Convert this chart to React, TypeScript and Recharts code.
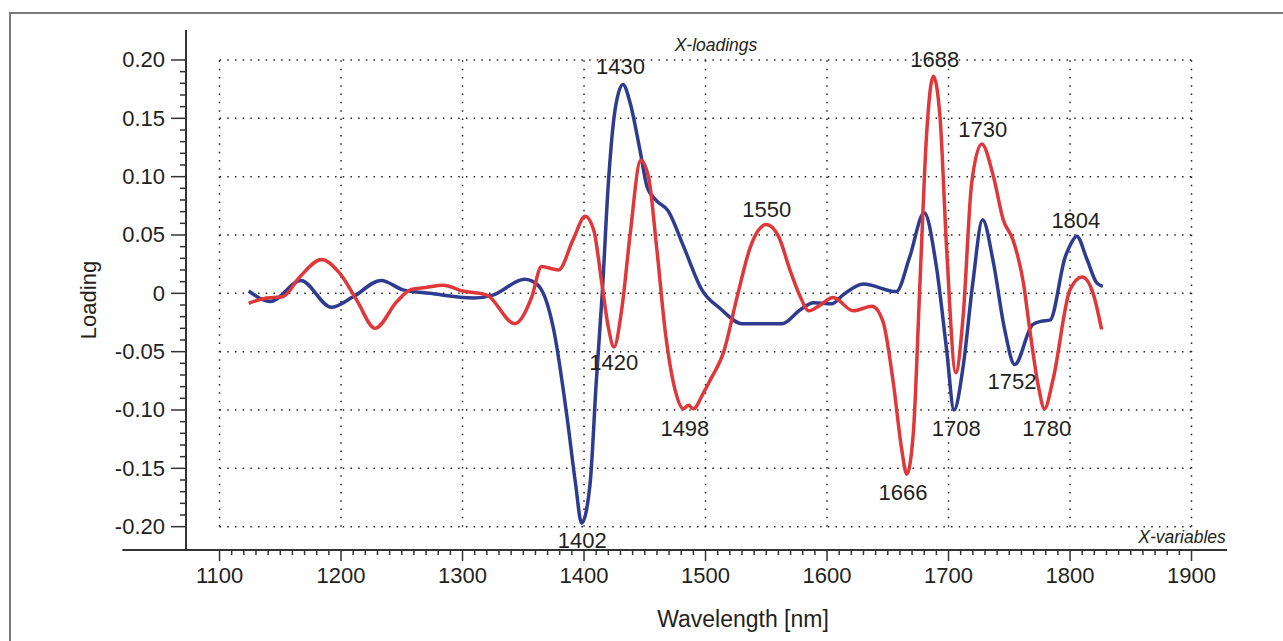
import React from "react";
import { LineChart, Line, XAxis, YAxis, ReferenceLine, ReferenceDot } from "recharts";

// X-loadings, two components (wavelength in nm, loading)
const blueNm = [
  1124, 1142, 1167, 1192, 1210, 1233, 1251, 1273, 1309, 1325, 1351, 1362, 1375, 1386, 1393, 1398,
  1405, 1410, 1415, 1420, 1425.5, 1432, 1438, 1446, 1452, 1460, 1469, 1482, 1497, 1512, 1530, 1550,
  1563, 1578, 1589, 1604, 1613, 1630, 1657, 1668, 1680, 1690, 1698.5, 1704.5, 1712, 1720, 1728, 1737,
  1746, 1754.5, 1769, 1776, 1783.5, 1796, 1800, 1805.5, 1814, 1822, 1827,
];
const blueVal = [
  0.002, -0.007, 0.011, -0.012, -0.003, 0.011, 0.003, 0.0, -0.004, -0.0015, 0.012, 0.007, -0.031, -0.106, -0.163, -0.197,
  -0.163, -0.077, 0.0, 0.094, 0.157, 0.179, 0.163, 0.123, 0.091, 0.079, 0.071, 0.04, 0.003, -0.013, -0.026, -0.026,
  -0.026, -0.014, -0.008, -0.009, -0.0015, 0.008, 0.0015, 0.031, 0.069, 0.023, -0.049, -0.1, -0.063, 0.009, 0.063, 0.026,
  -0.03, -0.061, -0.027, -0.024, -0.023, 0.031, 0.041, 0.049, 0.029, 0.009, 0.006,
];

const redNm = [
  1124, 1139, 1152, 1166, 1184, 1199, 1213, 1228, 1246, 1257, 1270, 1284, 1300, 1320, 1343, 1357,
  1365, 1379, 1391, 1401, 1408, 1414.6, 1420, 1424.7, 1431, 1438, 1446.6, 1453, 1460, 1467, 1475, 1481.7,
  1486, 1490, 1498, 1504, 1515, 1526, 1537, 1543.5, 1550, 1560, 1569.5, 1578, 1585, 1593, 1605, 1621.6,
  1637, 1646, 1654.6, 1661.5, 1665.6, 1671, 1676.5, 1682, 1687.5, 1693, 1698.5, 1706, 1712, 1719, 1727.3, 1737,
  1745, 1753, 1761.6, 1767, 1774, 1779, 1786, 1800, 1810, 1819, 1826,
];
const redVal = [
  -0.0085, -0.004, -0.003, 0.014, 0.029, 0.017, -0.006, -0.03, -0.007, 0.003, 0.005, 0.007, 0.002, -0.0015, -0.026, -0.003,
  0.023, 0.02, 0.046, 0.066, 0.054, 0.009, -0.029, -0.046, -0.014, 0.051, 0.114, 0.1, 0.037, -0.034, -0.083, -0.099,
  -0.096, -0.099, -0.086, -0.074, -0.05, -0.003, 0.04, 0.054, 0.059, 0.049, 0.02, -0.003, -0.015, -0.011, -0.0035, -0.015,
  -0.011, -0.024, -0.077, -0.134, -0.155, -0.12, 0.009, 0.137, 0.186, 0.151, 0.037, -0.068, -0.02, 0.094, 0.128, 0.1,
  0.063, 0.046, 0.009, -0.032, -0.08, -0.099, -0.074, 0.003, 0.014, 0.0, -0.031,
];

// peak annotations (text, wavelength, loading at text baseline)
const peakText = ["1430", "1402", "1420", "1498", "1550", "1688", "1730", "1666", "1708", "1752", "1780", "1804"];
const peakNm = [1430, 1398.5, 1424.5, 1483, 1550.4, 1688.6, 1728.2, 1662.6, 1706.4, 1752.3, 1780.8, 1804.8];
const peakVal = [0.188, -0.218, -0.0657, -0.1223, 0.0657, 0.1943, 0.134, -0.177, -0.1223, -0.082, -0.1223, 0.056];

const xMajorTicks = [1100, 1200, 1300, 1400, 1500, 1600, 1700, 1800, 1900];
const yMajorTicks = [0.2, 0.15, 0.1, 0.05, 0, -0.05, -0.1, -0.15, -0.2];
const yTickLabels = ["0.20", "0.15", "0.10", "0.05", "0", "-0.05", "-0.10", "-0.15", "-0.20"];

const xMinorTicks: number[] = [];
for (let v = 1100; v <= 1900; v += 10) xMinorTicks.push(v);
const yMinorTicks: number[] = [];
for (let i = -20; i <= 20; i++) yMinorTicks.push(i / 100);

const blueData = blueNm.map((nm, i) => ({ nm, v: blueVal[i] }));
const redData = redNm.map((nm, i) => ({ nm, v: redVal[i] }));

const FONT = "'Liberation Sans', Arial, Helvetica, sans-serif";
const INK = "#231f20";
const AXIS = "#333";
const GRID = "#222";

// eslint-disable-next-line @typescript-eslint/no-explicit-any
function XTick({ x, y, payload }: any) {
  const v = payload.value;
  const major = xMajorTicks.includes(v);
  return (
    <g>
      <line x1={x} x2={x} y1={y} y2={y + (major ? 11 : 5)} stroke={AXIS} strokeWidth={1.5} />
      {major && (
        <text x={x} y={y + 33} textAnchor="middle" fontFamily={FONT} fontSize={22} fill={INK}>
          {v}
        </text>
      )}
    </g>
  );
}

// eslint-disable-next-line @typescript-eslint/no-explicit-any
function YTick({ x, y, payload }: any) {
  const v = payload.value;
  const idx = yMajorTicks.findIndex((t) => Math.abs(t - v) < 1e-9);
  const major = idx >= 0;
  return (
    <g>
      <line x1={x} x2={x - (major ? 15 : 6)} y1={y} y2={y} stroke={AXIS} strokeWidth={1.5} />
      {major && (
        <text x={x - 21} y={y + 7.5} textAnchor="end" fontFamily={FONT} fontSize={22} fill={INK}>
          {yTickLabels[idx]}
        </text>
      )}
    </g>
  );
}

// eslint-disable-next-line @typescript-eslint/no-explicit-any
const textLabel = (text: string, size: number, italic = false) => (props: any) => {
  const vb = props.viewBox;
  return (
    <text
      x={vb.x + vb.width / 2}
      y={vb.y + vb.height / 2}
      textAnchor="middle"
      fontFamily={FONT}
      fontSize={size}
      fontStyle={italic ? "italic" : "normal"}
      fill={INK}
    >
      {text}
    </text>
  );
};

export default function App() {
  return (
    <div style={{ position: "absolute", left: 0, top: 0, width: 1283, height: 641, background: "#fff" }}>
      <div
        style={{
          position: "absolute",
          left: 9,
          top: 12,
          right: 0,
          bottom: 0,
          borderTop: "2px solid #7a7a7a",
          borderLeft: "2px solid #7a7a7a",
        }}
      />
      <div style={{ position: "absolute", left: 0, top: 0 }}>
        <LineChart width={1283} height={641} margin={{ top: 30, right: 56, bottom: 31, left: 86 }}>
          <XAxis
            type="number"
            dataKey="nm"
            domain={[1072.4, 1929.2]}
            allowDataOverflow
            ticks={xMinorTicks}
            interval={0}
            tick={<XTick />}
            tickLine={false}
            tickSize={0}
            tickMargin={0}
            axisLine={false}
            height={60}
            label={{
              content: (p: any) => (
                <text
                  x={p.viewBox.x + 557}
                  y={p.viewBox.y + 77}
                  textAnchor="middle"
                  fontFamily={FONT}
                  fontSize={23}
                  fill={INK}
                >
                  Wavelength [nm]
                </text>
              ),
            }}
          />
          <YAxis
            type="number"
            domain={[-0.22, 0.2257]}
            allowDataOverflow
            ticks={yMinorTicks}
            interval={0}
            tick={<YTick />}
            tickLine={false}
            tickSize={0}
            tickMargin={0}
            axisLine={{ stroke: AXIS, strokeWidth: 2 }}
            width={100}
            label={{
              content: (p: any) => (
                <text
                  x={p.viewBox.x + 2}
                  y={300}
                  transform={`rotate(-90, ${p.viewBox.x + 2}, 300)`}
                  textAnchor="middle"
                  dominantBaseline="central"
                  fontFamily={FONT}
                  fontSize={22}
                  fill={INK}
                >
                  Loading
                </text>
              ),
            }}
          />

          {/* bottom axis line, runs a bit left of the y axis */}
          <ReferenceLine
            segment={[
              { x: 1020, y: -0.22 },
              { x: 1929.2, y: -0.22 },
            ]}
            ifOverflow="visible"
            stroke={AXIS}
            strokeWidth={2}
          />

          {/* dotted grid, only inside 1100-1900 / -0.2-0.2 */}
          {yMajorTicks.map((t) => (
            <ReferenceLine
              key={`h${t}`}
              segment={[
                { x: 1100, y: t },
                { x: 1900, y: t },
              ]}
              stroke={GRID}
              strokeWidth={1.5}
              strokeDasharray="1.5 6.2"
            />
          ))}
          {xMajorTicks.map((t) => (
            <ReferenceLine
              key={`v${t}`}
              segment={[
                { x: t, y: -0.2 },
                { x: t, y: 0.2 },
              ]}
              stroke={GRID}
              strokeWidth={1.5}
              strokeDasharray="1.5 6.8"
            />
          ))}

          <Line
            data={blueData}
            dataKey="v"
            type="monotone"
            stroke="#2d3c8f"
            strokeWidth={3.5}
            dot={false}
            activeDot={false}
            isAnimationActive={false}
          />
          <Line
            data={redData}
            dataKey="v"
            type="monotone"
            stroke="#e0383a"
            strokeWidth={3.5}
            dot={false}
            activeDot={false}
            isAnimationActive={false}
          />

          {peakText.map((t, i) => (
            <ReferenceDot
              key={t}
              x={peakNm[i]}
              y={peakVal[i]}
              r={1}
              fill="none"
              stroke="none"
              ifOverflow="visible"
              label={{ content: textLabel(t, 22) }}
            />
          ))}
          <ReferenceDot
            x={1508.6}
            y={0.2077}
            r={1}
            fill="none"
            stroke="none"
            ifOverflow="visible"
            label={{ content: textLabel("X-loadings", 17.5, true) }}
          />
          <ReferenceDot
            x={1892.2}
            y={-0.214}
            r={1}
            fill="none"
            stroke="none"
            ifOverflow="visible"
            label={{ content: textLabel("X-variables", 17.5, true) }}
          />
        </LineChart>
      </div>
    </div>
  );
}
